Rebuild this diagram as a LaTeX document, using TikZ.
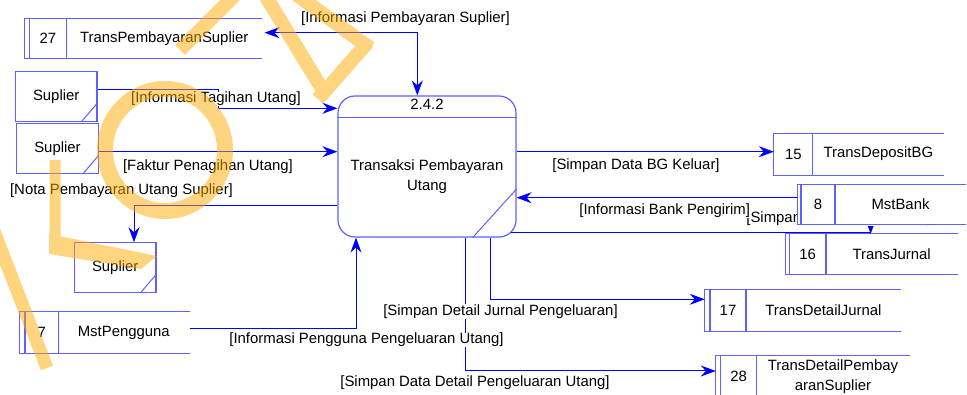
\documentclass[tikz,border=0pt]{standalone}
\usepackage{fontspec}
\setmainfont{Liberation Sans}
\usetikzlibrary{arrows.meta}

\definecolor{boxblue}{RGB}{96,96,255}
\definecolor{flowblue}{RGB}{0,0,255}
\definecolor{wmorange}{RGB}{255,170,0}

\tikzset{
  txt/.style={inner sep=0pt, font=\fontsize{14.9}{20}\selectfont},
  lbl/.style={fill=white, inner sep=0.5pt, font=\fontsize{14.9}{18}\selectfont},
  boxline/.style={draw=boxblue, line width=1.1pt},
  flow/.style={draw=flowblue, line width=1pt},
  tip/.style={-{Stealth[length=15pt,width=11pt,inset=5pt]}},
  bitip/.style={{Stealth[length=15pt,width=11pt,inset=5pt]}-{Stealth[length=15pt,width=11pt,inset=5pt]}},
  entity/.style={draw=boxblue, line width=1.1pt, fill=white, minimum width=81.5pt,
    minimum height=49.5pt, inner sep=0pt, font=\fontsize{14.9}{18}\selectfont,
    path picture={\draw[boxblue, line width=1pt]
      ([xshift=-15pt]path picture bounding box.south east) --
      ([yshift=17.5pt]path picture bounding box.south east);}},
  procbox/.style={draw=boxblue, line width=1.2pt, rounded corners=17pt, fill=white,
    minimum width=178pt, minimum height=141pt, inner sep=0pt},
  wmstroke/.style={draw=wmorange, line width=14pt, line cap=butt},
  wmfill/.style={fill=wmorange}
}

% data store: name, left x, top y, right x, bottom y, divider x,
% offset of the inner left line (0 = none), number, name text
\newcommand{\dstore}[9]{%
  \node[minimum width={(#4-#2)*1pt}, minimum height={(#5-#3)*1pt}, inner sep=0pt, fill=white]
    (#1) at ({(#2+#4)/2},{(#3+#5)/2}) {};
  \draw[boxline] (#1.north east) -- (#1.north west) -- (#1.south west) -- (#1.south east);
  \draw[boxline] ({#6},{#3}) -- ({#6},{#5});
  \ifdim #7pt>0pt \draw[boxline] ({#2+#7},{#3}) -- ({#2+#7},{#5}); \fi
  \node[txt] (#1-no) at ({(#2+#7+#6)/2},{(#3+#5)/2}) {#8};
  \node[txt, align=center] (#1-name) at ({(#6+#4)/2},{(#3+#5)/2}) {#9};
}

\begin{document}
\begin{tikzpicture}[x=1pt, y=-1pt]
\useasboundingbox (0,0) rectangle (967,395);
\clip (0,0) rectangle (967,395);
\fill[white] (0,0) rectangle (967,395);

% ---- process ----
\node[procbox] (proc) at (427,166.5) {};

% ---- named points on the process for the flows ----
\coordinate (pTop)   at ([xshift=-9.7pt]proc.north);
\coordinate (pIn1)   at ([yshift=58.2pt]proc.west);
\coordinate (pNota)  at ([yshift=-39.2pt]proc.west);
\coordinate (pUser)  at ([xshift=-71pt]proc.south);
\coordinate (pBG)    at ([yshift=14.8pt]proc.east);
\coordinate (pJur)   at ([xshift=-5.3pt,yshift=4.7pt]proc.south east);
\coordinate (pDJ)    at ([xshift=63pt]proc.south);
\coordinate (pDP)    at ([xshift=38pt]proc.south);

% ---- data stores and external entities ----
\dstore{s27}{25}{18.3}{261.7}{58.7}{66.7}{4.3}{27}{TransPembayaranSuplier}
\dstore{s7}{19.3}{311.7}{189.3}{353.3}{58.3}{5.7}{7}{MstPengguna}
\dstore{s15}{774}{133.3}{944}{175}{812.7}{0}{15}{TransDepositBG}
\dstore{s16}{785.7}{234}{957.3}{274.3}{826}{3.6}{16}{TransJurnal}
\dstore{s17}{705}{289.3}{900.7}{331}{746}{5}{17}{TransDetailJurnal}
\dstore{s28}{716}{355.7}{909.3}{397}{756.7}{4.7}{28}{TransDetailPembay\\aranSuplier}

\node[entity] (sup1) at (56.2,96.35) {Suplier};
\node[entity] (sup2) at (57.5,148.65) {Suplier};
\node[entity] (sup3) at (115.2,267.5) {Suplier};

% ---- flows ----
\coordinate (a1) at ([xshift=2.6pt, yshift=5.8pt]s27.east);
\draw[flow, bitip] (a1) -| (pTop);

\coordinate (t1) at ([yshift=6.35pt]sup1.east);
\draw[flow, tip] (t1) -- ++(121.3,0) |- (pIn1);

\coordinate (f1) at ([yshift=-3.05pt]sup2.east);
\draw[flow, tip] (f1) -- (f1 -| proc.west);

\draw[flow, tip] (pNota) -| ([xshift=18.8pt]sup3.north);

\coordinate (u1) at ([yshift=4.2pt]s7.east);
\draw[flow, tip] (u1) -| (pUser);

\draw[flow, tip] (pBG) -- (pBG -| s15.west);

\draw[flow] (pJur) -- (pJur -| 870.7,0);
\draw[flow, tip] ([yshift=15pt]s16.north -| 870.7,0) -- (s16.north -| 870.7,0);

\draw[flow, tip] (pDJ) |- ([yshift=10.85pt]s17.west);
\draw[flow, tip] (pDP) |- ([yshift=5.35pt]s28.west);

% label partly hidden behind the MstBank store
\node[lbl, anchor=west] (lJur) at (745.7,219) {[Simpan Data Jurnal Utang]};

% MstBank store and its flow
\dstore{s8}{797.3}{184.3}{966}{224.3}{835}{3.7}{8}{MstBank}
\coordinate (k1) at ([yshift=6.6pt]s8.west);
\draw[flow, tip] (k1) -- (k1 -| proc.east);

% process details
\draw[boxline] ([yshift=49.2pt]proc.west) -- ([yshift=49.2pt]proc.east);
\draw[boxline, line width=1pt] ([yshift=-22.5pt]proc.east) -- ([xshift=-44pt]proc.south east);
\node[txt] (proc-id) at ([yshift=62pt]proc.center) {2.4.2};
\node[txt, align=center] (proc-name) at ([yshift=-9.8pt]proc.center) {Transaksi Pembayaran\\Utang};

% ---- flow labels ----
\node[lbl] (l1) at (405.5,19)   {[Informasi Pembayaran Suplier]};
\node[lbl] (l2) at (216,99)     {[Informasi Tagihan Utang]};
\node[lbl] (l3) at (208,166.7)  {[Faktur Penagihan Utang]};
\node[lbl] (l4) at (121.5,190.7){[Nota Pembayaran Utang Suplier]};
\node[lbl] (l5) at (366.5,340)  {[Informasi Pengguna Pengeluaran Utang]};
\node[lbl] (l6) at (636,166)    {[Simpan Data BG Keluar]};
\node[lbl] (l7) at (664.7,210.7){[Informasi Bank Pengirim]};
\node[lbl] (l8) at (500.5,311.7){[Simpan Detail Jurnal Pengeluaran]};
\node[lbl] (l9) at (475,382.7)  {[Simpan Data Detail Pengeluaran Utang]};

% ---- translucent orange watermark letters ----
\begin{scope}[opacity=0.5, transparency group]
  % K
  \draw[wmstroke, line width=13pt] (-8,226) -- (47,368);
  \draw[wmstroke, line width=11pt] (55,160) -- (55,252);
  \fill[wmfill] (49,234) -- (157,256) -- (141,269) -- (49,254) -- cycle;
  % O
  \draw[wmstroke, line width=16pt] (165,150) ellipse [x radius=60, y radius=61];
  % M
  \draw[wmstroke] (180,50) -- (240,-10);
  \draw[wmstroke] (262,-10) -- (327,97);
  \draw[wmstroke] (318,99) -- (368,42);
  \draw[wmstroke] (370,48) -- (290,-10);
\end{scope}
\end{tikzpicture}
\end{document}
